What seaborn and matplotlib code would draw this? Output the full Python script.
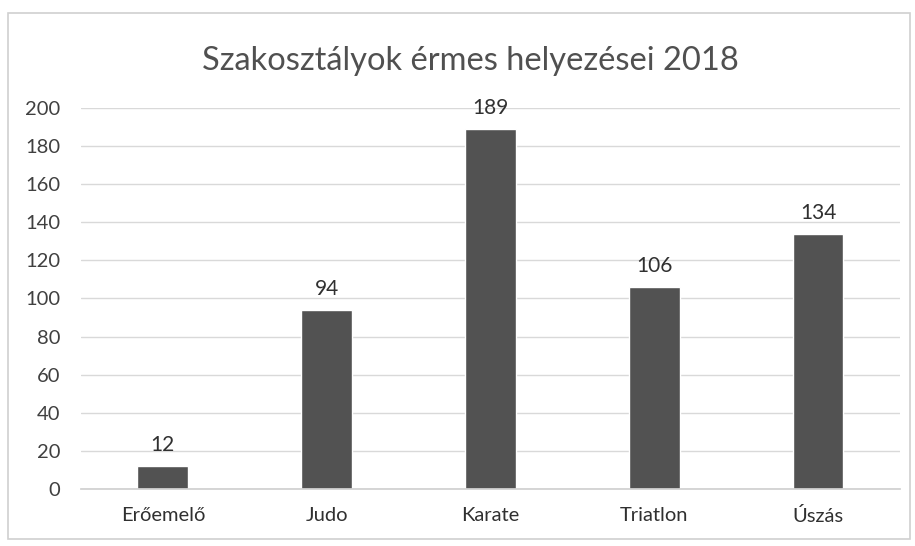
import matplotlib
matplotlib.use("Agg")
import matplotlib.pyplot as plt
import seaborn as sns
import pandas as pd
from matplotlib.patches import Rectangle

categories = ["Erőemelő", "Judo", "Karate", "Triatlon", "Úszás"]
values = [12, 94, 189, 106, 134]
yticks = [0, 20, 40, 60, 80, 100, 120, 140, 160, 180, 200]
title = "Szakosztályok érmes helyezései 2018"

sns.set_theme(style="white")
plt.rcParams['font.family'] = ['Lato', 'DejaVu Sans']

df = pd.DataFrame({"cat": categories, "val": values})

fig = plt.figure(figsize=(9.15, 5.46), dpi=100)
ax = fig.add_axes([0.0885, 0.1044, 0.895, 0.698])
sns.barplot(data=df, x="cat", y="val", color="#525252", width=0.31, ax=ax,
            saturation=1, zorder=3)

ax.set_ylim(0, 200)
ax.set_yticks(yticks)
ax.set_yticklabels([str(t) for t in yticks], fontsize=14.5, color="#404040")
ax.tick_params(axis="x", labelsize=14.5, colors="#404040", length=0, pad=13)
ax.tick_params(axis="y", length=0, pad=15)
for lbl in ax.get_xticklabels():
    lbl.set_color("#303030")
ax.set_xlabel("")
ax.set_ylabel("")
ax.grid(axis="y", color="#d9d9d9", linewidth=1, zorder=0)
ax.set_axisbelow(True)
for s in ["top", "right", "left"]:
    ax.spines[s].set_visible(False)
ax.spines["bottom"].set_color("#d0d0d0")
ax.spines["bottom"].set_zorder(4)

for c in ax.containers:
    ax.bar_label(c, labels=[str(v) for v in values], padding=8, fontsize=15,
                 color="#303030")

fig.text(0.514, 0.888, title, ha="center", va="center", fontsize=23.5,
         color="#505050")

fig.patches.append(Rectangle((0.009, 0.012), 0.985, 0.965, transform=fig.transFigure,
                             fill=False, edgecolor="#d0d0d0", linewidth=1.2))

fig.savefig("out.png", dpi=100)
